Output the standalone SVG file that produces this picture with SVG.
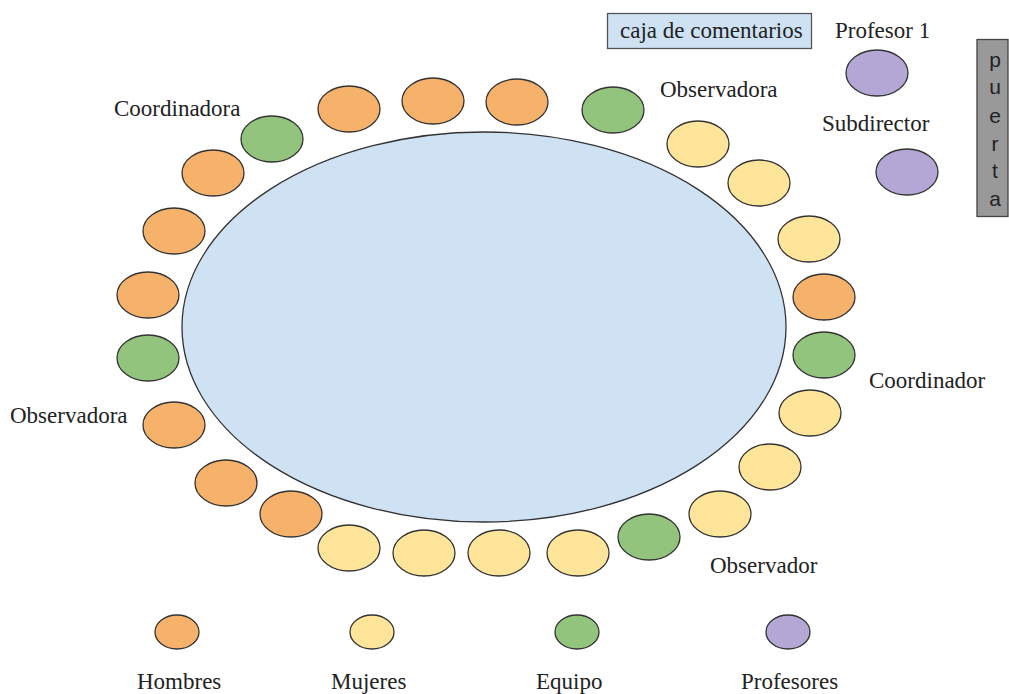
<svg xmlns="http://www.w3.org/2000/svg" width="1009" height="694" viewBox="0 0 1009 694">
<style>
  .seat { stroke: #333; stroke-width: 1.3; }
  .h { fill: #f6b26b; }
  .m { fill: #ffe599; }
  .e { fill: #93c47d; }
  .p { fill: #b4a7d6; }
  .lbl { font-family: "Liberation Serif", "Times New Roman", serif; font-size: 23px; fill: #222; }
  .door { font-family: "Liberation Sans", Arial, sans-serif; font-size: 21px; fill: #222; text-anchor: middle; }
</style>
<rect width="1009" height="694" fill="#ffffff"/>
<g id="table">
  <ellipse cx="484" cy="327" rx="302" ry="195" fill="#cfe2f3" stroke="#333" stroke-width="1.3"/>
</g>
<g id="seats">
  <ellipse class="seat h" cx="349" cy="109" rx="31" ry="23"/>
  <ellipse class="seat h" cx="433" cy="101" rx="31" ry="23"/>
  <ellipse class="seat h" cx="517" cy="102" rx="31" ry="23"/>
  <ellipse class="seat e" cx="613" cy="110" rx="31" ry="23"/>
  <ellipse class="seat e" cx="272" cy="139" rx="31" ry="23"/>
  <ellipse class="seat h" cx="213" cy="173" rx="31" ry="23"/>
  <ellipse class="seat h" cx="174" cy="231" rx="31" ry="23"/>
  <ellipse class="seat h" cx="148" cy="295" rx="31" ry="23"/>
  <ellipse class="seat e" cx="148" cy="358" rx="31" ry="23"/>
  <ellipse class="seat h" cx="174" cy="425" rx="31" ry="23"/>
  <ellipse class="seat h" cx="226" cy="483" rx="31" ry="23"/>
  <ellipse class="seat h" cx="291" cy="514" rx="31" ry="23"/>
  <ellipse class="seat m" cx="349" cy="548" rx="31" ry="23"/>
  <ellipse class="seat m" cx="424" cy="553" rx="31" ry="23"/>
  <ellipse class="seat m" cx="499" cy="553" rx="31" ry="23"/>
  <ellipse class="seat m" cx="578" cy="553" rx="31" ry="23"/>
  <ellipse class="seat e" cx="649" cy="537" rx="31" ry="23"/>
  <ellipse class="seat m" cx="720" cy="514" rx="31" ry="23"/>
  <ellipse class="seat m" cx="770" cy="467" rx="31" ry="23"/>
  <ellipse class="seat m" cx="810" cy="413" rx="31" ry="23"/>
  <ellipse class="seat e" cx="824" cy="355" rx="31" ry="23"/>
  <ellipse class="seat h" cx="824" cy="297" rx="31" ry="23"/>
  <ellipse class="seat m" cx="809" cy="239" rx="31" ry="23"/>
  <ellipse class="seat m" cx="759" cy="183" rx="31" ry="23"/>
  <ellipse class="seat m" cx="698" cy="144" rx="31" ry="23"/>
</g>
<g id="profesores">
  <ellipse class="seat p" cx="877" cy="73" rx="31" ry="23"/>
  <ellipse class="seat p" cx="907" cy="172" rx="31" ry="23"/>
</g>
<g id="labels">
  <text class="lbl" x="114" y="116">Coordinadora</text>
  <text class="lbl" x="660" y="97">Observadora</text>
  <text class="lbl" x="835" y="38">Profesor 1</text>
  <text class="lbl" x="822" y="131">Subdirector</text>
  <text class="lbl" x="869" y="388">Coordinador</text>
  <text class="lbl" x="710" y="573">Observador</text>
  <text class="lbl" x="10" y="423">Observadora</text>
</g>
<g id="caja">
  <rect x="607.5" y="13.5" width="204" height="35" fill="#cfe2f3" stroke="#555" stroke-width="1.3"/>
  <text class="lbl" x="620" y="38">caja de comentarios</text>
</g>
<g id="puerta">
  <rect x="977" y="39.5" width="31" height="177" fill="#999999" stroke="#444" stroke-width="1.3"/>
  <text class="door" x="995" y="67">p</text>
  <text class="door" x="995" y="94">u</text>
  <text class="door" x="995" y="123">e</text>
  <text class="door" x="995" y="151">r</text>
  <text class="door" x="995" y="178">t</text>
  <text class="door" x="995" y="206">a</text>
</g>
<g id="legend">
  <ellipse class="seat h" cx="177" cy="632" rx="22" ry="17"/>
  <ellipse class="seat m" cx="372" cy="632" rx="22" ry="17"/>
  <ellipse class="seat e" cx="577" cy="632" rx="22" ry="17"/>
  <ellipse class="seat p" cx="788" cy="632" rx="22" ry="17"/>
  <text class="lbl" x="137" y="689">Hombres</text>
  <text class="lbl" x="331" y="689">Mujeres</text>
  <text class="lbl" x="536" y="689">Equipo</text>
  <text class="lbl" x="741" y="689">Profesores</text>
</g>
<g id="connectors"></g>
</svg>
